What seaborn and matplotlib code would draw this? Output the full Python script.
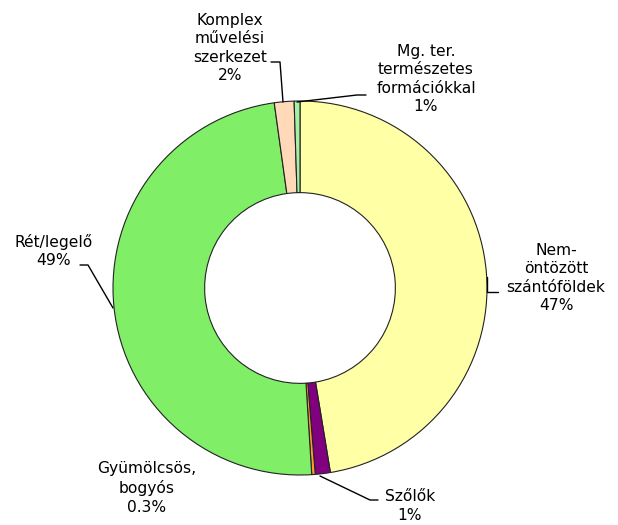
import matplotlib
matplotlib.use("Agg")
import matplotlib.pyplot as plt
import seaborn as sns

# land use shares (%), clockwise from 12 o'clock
categories = ["Nem-\nöntözött\nszántóföldek", "Szőlők", "Gyümölcsös,\nbogyós",
              "Rét/legelő", "Komplex\nművelési\nszerkezet",
              "Mg. ter.\ntermészetes\nformációkkal"]
shares = [47.4, 1.3, 0.3, 48.8, 1.7, 0.5]
pct_labels = ["47%", "1%", "0.3%", "49%", "2%", "1%"]
colors = ["#FFFFA6", "#800080", "#FF9933", "#80EE66", "#FFD9B8", "#A6F0A6"]

sns.set_style("white")
plt.rcParams["font.family"] = ["DejaVu Sans"]

W, H = 618, 525
cx, cy, R = 300, 288, 187

fig = plt.figure(figsize=(W / 100, H / 100), dpi=100)
ax = fig.add_axes([(cx - R) / W, (H - cy - R) / H, 2 * R / W, 2 * R / H])

ax.pie(shares, colors=colors, startangle=90, counterclock=False, radius=1,
       wedgeprops=dict(width=0.49, edgecolor="#222222", linewidth=0.8))


def d(px, py):
    return (px - cx) / R, (cy - py) / R


# label text positions (pixel centres) and leader line paths
text_pos = [(556, 278), (410, 506), (147, 488), (54, 251), (230, 48), (426, 79)]
leaders = [
    [(487, 277), (487, 292), (498, 292)],
    [(320, 476), (370, 500), (378, 500)],
    None,
    [(113, 308), (88, 265), (80, 265)],
    [(283, 102), (280, 62), (271, 62)],
    [(297, 102), (357, 95), (366, 95)],
]

for name, pct, pos, path in zip(categories, pct_labels, text_pos, leaders):
    x, y = d(*pos)
    ax.text(x, y, name + "\n" + pct, ha="center", va="center",
            multialignment="center", fontsize=11.2, linespacing=1.28,
            color="black", clip_on=False)
    if path:
        pts = [d(*p) for p in path]
        ax.plot([p[0] for p in pts], [p[1] for p in pts], color="black",
                lw=1.0, clip_on=False)

ax.set_xlim(-1, 1)
ax.set_ylim(-1, 1)
ax.set_aspect("equal")
ax.axis("off")

fig.savefig("out.png", dpi=100)
